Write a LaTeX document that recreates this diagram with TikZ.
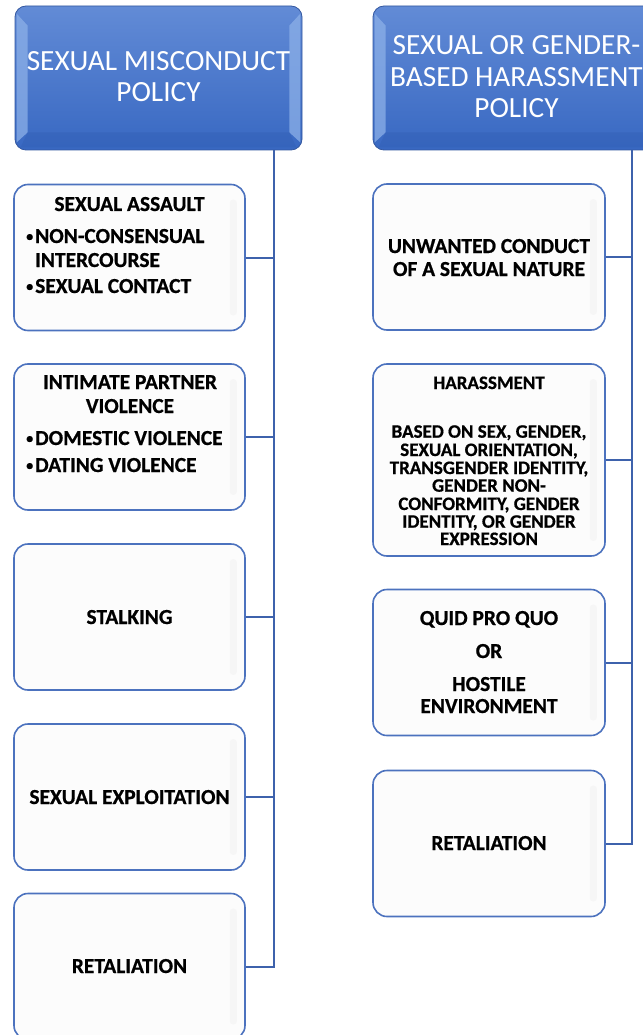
\documentclass[tikz,border=0pt]{standalone}
\usepackage{fontspec}
\setmainfont{Carlito}[BoldFeatures={FakeBold=0.7}]
\usetikzlibrary{calc}
\definecolor{hdtop}{RGB}{98,139,214}
\definecolor{hdbot}{RGB}{56,104,194}
\definecolor{hdline}{RGB}{52,88,160}
\definecolor{hdlight}{RGB}{140,176,232}
\definecolor{hddark}{RGB}{48,92,176}
\definecolor{bxline}{RGB}{76,114,190}
\definecolor{bxfill}{RGB}{252,252,252}
\definecolor{cnline}{RGB}{62,98,172}
\newcommand\hfnt{\fontsize{29.3}{31}\selectfont}
\newcommand\bfnt{\bfseries\fontsize{21.4}{24}\selectfont}
\newcommand\sfnt{\bfseries\fontsize{19}{18}\selectfont}
\tikzset{
  header/.style={draw=hdline, line width=0.8pt, rounded corners=11pt, top color=hdtop, bottom color=hdbot,
    minimum width=287pt, minimum height=144pt, inner sep=0pt},
  bevel/.style={fill=hdlight, draw=none, opacity=0.75},
  bevelb/.style={fill=hddark, draw=none, opacity=0.35},
  cbox/.style={draw=bxline, line width=1.6pt, fill=bxfill, rounded corners=14pt,
    minimum width=231pt, minimum height=146pt, inner sep=0pt},
  htxt/.style={font=\hfnt, text=white, anchor=base, inner sep=0pt},
  btxt/.style={font=\bfnt, anchor=base, inner sep=0pt},
  bltxt/.style={font=\bfnt, anchor=base west, inner sep=0pt},
  stxt/.style={font=\sfnt, anchor=base, inner sep=0pt},
  conn/.style={draw=cnline, line width=2pt},
}
\newcommand\bul{\llap{\raisebox{2pt}{\fontsize{14}{14}\selectfont\textbullet}\hspace{2pt}}}
\begin{document}
\begin{tikzpicture}[x=1pt,y=-1pt]
\useasboundingbox (0,0) rectangle (642,1035);
\fill[white] (0,0) rectangle (642,1035);
% trunk anchor coordinates
\coordinate (tL) at (274,150);
\coordinate (tR) at (632,150);
% child boxes
\node[cbox] (L1) at (129.5,257.5) {};
\node[cbox] (L2) at (129.5,437) {};
\node[cbox] (L3) at (129.5,617) {};
\node[cbox] (L4) at (129.5,797) {};
\node[cbox] (L5) at (129.5,966.5) {};
\node[cbox, minimum width=232pt] (R1) at (489,257) {};
\node[cbox, minimum width=232pt, minimum height=192pt] (R2) at (489,460) {};
\node[cbox, minimum width=232pt] (R3) at (489,662.5) {};
\node[cbox, minimum width=232pt] (R4) at (489,843.5) {};
% faint inner strips
\foreach \b in {L1,L2,L3,L4,L5,R1,R2,R3,R4}{
  \fill[black!3.5, rounded corners=3pt] ([shift={(-16,16)}]\b.north east) rectangle ([shift={(-9,-16)}]\b.south east);
}
% headers
\node[header] (hL) at (158.5,78) {};
\node[header] (hR) at (516.5,78) {};
\foreach \h in {hL,hR}{
  \fill[bevel] ([shift={(2,8)}]\h.north west) -- ([shift={(13,20)}]\h.north west) -- ([shift={(13,-18)}]\h.south west) -- ([shift={(2,-8)}]\h.south west) -- cycle;
  \fill[bevel] ([shift={(-2,8)}]\h.north east) -- ([shift={(-13,20)}]\h.north east) -- ([shift={(-13,-18)}]\h.south east) -- ([shift={(-2,-8)}]\h.south east) -- cycle;
  \fill[bevelb] ([shift={(13,-18)}]\h.south west) -- ([shift={(-13,-18)}]\h.south east) -- ([shift={(-6,-3)}]\h.south east) -- ([shift={(6,-3)}]\h.south west) -- cycle;
}
% connectors
\draw[conn] (hL.south -| tL) |- (L5.east);
\foreach \b in {L1,L2,L3,L4}{ \draw[conn] (\b.east) -- (\b.east -| tL); }
\draw[conn] (hR.south -| tR) |- (R4.east);
\foreach \b in {R1,R2,R3}{ \draw[conn] (\b.east) -- (\b.east -| tR); }
% header texts
\node[htxt] (hL1) at (158.5,71) {SEXUAL MISCONDUCT};
\node[htxt] (hL2) at (158.5,102) {POLICY};
\node[htxt] (hR1) at (516.5,55) {SEXUAL OR GENDER-};
\node[htxt] (hR2) at (516.5,86.5) {BASED HARASSMENT};
\node[htxt] (hR3) at (516.5,118) {POLICY};
% left box texts
\node[btxt] (L1a) at (129.5,211) {SEXUAL ASSAULT};
\node[bltxt] (L1b) at (35,243) {\bul NON-CONSENSUAL};
\node[bltxt] (L1c) at (35,267) {INTERCOURSE};
\node[bltxt] (L1d) at (35,293) {\bul SEXUAL CONTACT};
\node[btxt] (L2a) at (130,389) {INTIMATE PARTNER};
\node[btxt] (L2b) at (130,413) {VIOLENCE};
\node[bltxt] (L2c) at (35,445) {\bul DOMESTIC VIOLENCE};
\node[bltxt] (L2d) at (35,472) {\bul DATING VIOLENCE};
\node[btxt] (L3a) at (129.5,624) {STALKING};
\node[btxt] (L4a) at (129.5,804) {SEXUAL EXPLOITATION};
\node[btxt] (L5a) at (129.5,973) {RETALIATION};
% right box texts
\node[btxt] (R1a) at (489,253) {UNWANTED CONDUCT};
\node[btxt] (R1b) at (489,276) {OF A SEXUAL NATURE};
\node[stxt] (R2a) at (489,389) {HARASSMENT};
\node[stxt] (R2b) at (489,437.7) {BASED ON SEX, GENDER,};
\node[stxt] (R2c) at (489,456) {SEXUAL ORIENTATION,};
\node[stxt] (R2d) at (489,474) {TRANSGENDER IDENTITY,};
\node[stxt] (R2e) at (489,491.7) {GENDER NON-};
\node[stxt] (R2f) at (489,510) {CONFORMITY, GENDER};
\node[stxt] (R2g) at (489,527.7) {IDENTITY, OR GENDER};
\node[stxt] (R2h) at (489,545) {EXPRESSION};
\node[btxt] (R3a) at (489,625) {QUID PRO QUO};
\node[btxt] (R3b) at (489,658) {OR};
\node[btxt] (R3c) at (489,691) {HOSTILE};
\node[btxt] (R3d) at (489,713) {ENVIRONMENT};
\node[btxt] (R4a) at (489,850) {RETALIATION};
\end{tikzpicture}
\end{document}
